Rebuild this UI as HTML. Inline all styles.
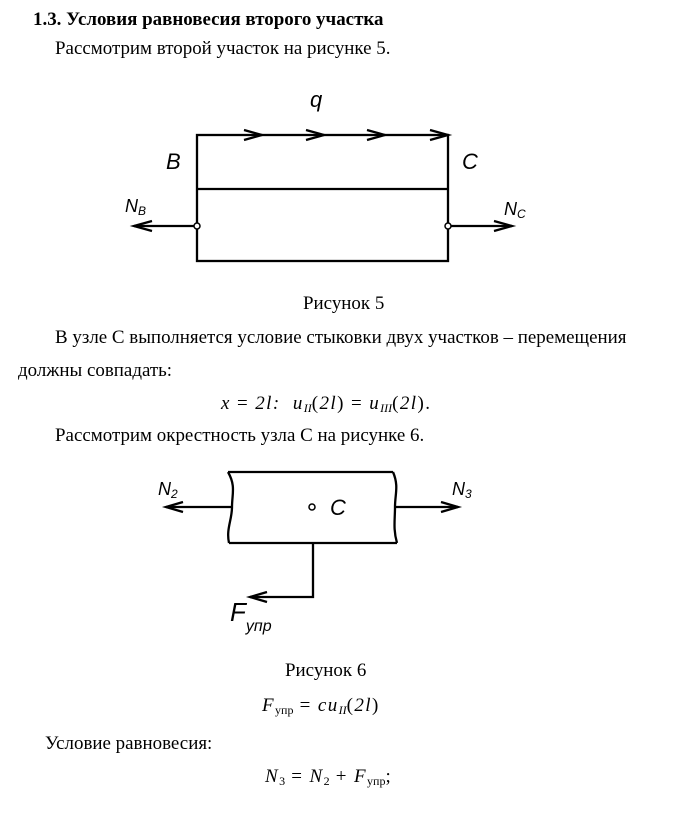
<!DOCTYPE html>
<html><head><meta charset="utf-8"><style>
body{margin:0;width:680px;height:816px;background:#fff;position:relative;overflow:hidden;font-family:"Liberation Serif",serif;font-size:18.95px;color:#000}
.t{position:absolute;white-space:nowrap;line-height:21px}
.m{font-style:italic;font-family:"Liberation Serif","DejaVu Serif",serif;font-size:19px;letter-spacing:1.4px}
sub{font-size:12px;vertical-align:-3px;letter-spacing:0}
svg{position:absolute;left:0;top:0}
.d{font-family:"Liberation Sans",sans-serif;font-style:italic;font-size:22px;line-height:24px;letter-spacing:0}
.d sub{font-size:12px}
</style></head><body>
<div class="t" style="left:33px;top:9px;font-weight:bold">1.3. Условия равновесия второго участка</div>
<div class="t" style="left:55px;top:38px">Рассмотрим второй участок на рисунке 5.</div>
<div class="t" style="left:303px;top:293px">Рисунок 5</div>
<div class="t" style="left:55px;top:327px">В узле С выполняется условие стыковки двух участков – перемещения</div>
<div class="t" style="left:18px;top:360px">должны совпадать:</div>
<div class="t m" style="left:221px;top:393px">x <span style="font-style:normal">=</span> 2l:&nbsp; u<sub>II</sub><span style="font-style:normal">(</span>2l<span style="font-style:normal">)</span> <span style="font-style:normal">=</span> u<sub>III</sub><span style="font-style:normal">(</span>2l<span style="font-style:normal">).</span></div>
<div class="t" style="left:55px;top:425px">Рассмотрим окрестность узла С на рисунке 6.</div>
<div class="t" style="left:285px;top:660px">Рисунок 6</div>
<div class="t m" style="left:262px;top:695px">F<sub style="font-style:normal">упр</sub> <span style="font-style:normal">=</span> cu<sub>II</sub><span style="font-style:normal">(</span>2l<span style="font-style:normal">)</span></div>
<div class="t" style="left:45px;top:733px">Условие равновесия:</div>
<div class="t m" style="left:265px;top:766px">N<sub style="font-style:normal">3</sub> <span style="font-style:normal">= </span>N<sub style="font-style:normal">2</sub> <span style="font-style:normal">+ </span>F<sub style="font-style:normal">упр</sub><span style="font-style:normal">;</span></div>
<svg width="680" height="816" fill="none" stroke="#000" stroke-width="2.3">
<rect x="197" y="135" width="251" height="126"/>
<line x1="197" y1="189" x2="448" y2="189"/>
<path d="M244 130l18 5-18 5M306 130l18 5-18 5M367 130l18 5-18 5M430 130l18 5-18 5"/>
<line x1="197" y1="226" x2="134" y2="226"/><path d="M152 221l-18 5 18 5"/>
<line x1="448" y1="226" x2="512" y2="226"/><path d="M494 221l18 5-18 5"/>
<circle cx="197" cy="226" r="3" fill="#fff" stroke-width="1.5"/>
<circle cx="448" cy="226" r="3" fill="#fff" stroke-width="1.5"/>
<path d="M228 472H393M229 543H397M228 472c8 14 4 22 4 35s-6 22-3 36M393 472c6 14 2 22 2 35s-2 22 2 36"/>
<line x1="232" y1="507" x2="166" y2="507"/><path d="M183 502l-17 5 17 5"/>
<line x1="395" y1="507" x2="458" y2="507"/><path d="M441 502l17 5-17 5"/>
<circle cx="312" cy="507" r="3" stroke-width="1.5"/>
<path d="M313 543V597H250"/><path d="M267 592l-17 5 17 5"/>
</svg>
<div class="t d" style="left:310px;top:88px">q</div>
<div class="t d" style="left:166px;top:150px">B</div>
<div class="t d" style="left:462px;top:150px">C</div>
<div class="t d" style="left:125px;top:194px;font-size:18px">N<sub>B</sub></div>
<div class="t d" style="left:504px;top:197px;font-size:18px">N<sub>C</sub></div>
<div class="t d" style="left:158px;top:477px;font-size:18px">N<sub>2</sub></div>
<div class="t d" style="left:452px;top:477px;font-size:18px">N<sub>3</sub></div>
<div class="t d" style="left:330px;top:496px">C</div>
<div class="t d" style="left:230px;top:600px;font-size:26px">F<sub style="font-size:16px;vertical-align:-10px">упр</sub></div>
</body></html>
